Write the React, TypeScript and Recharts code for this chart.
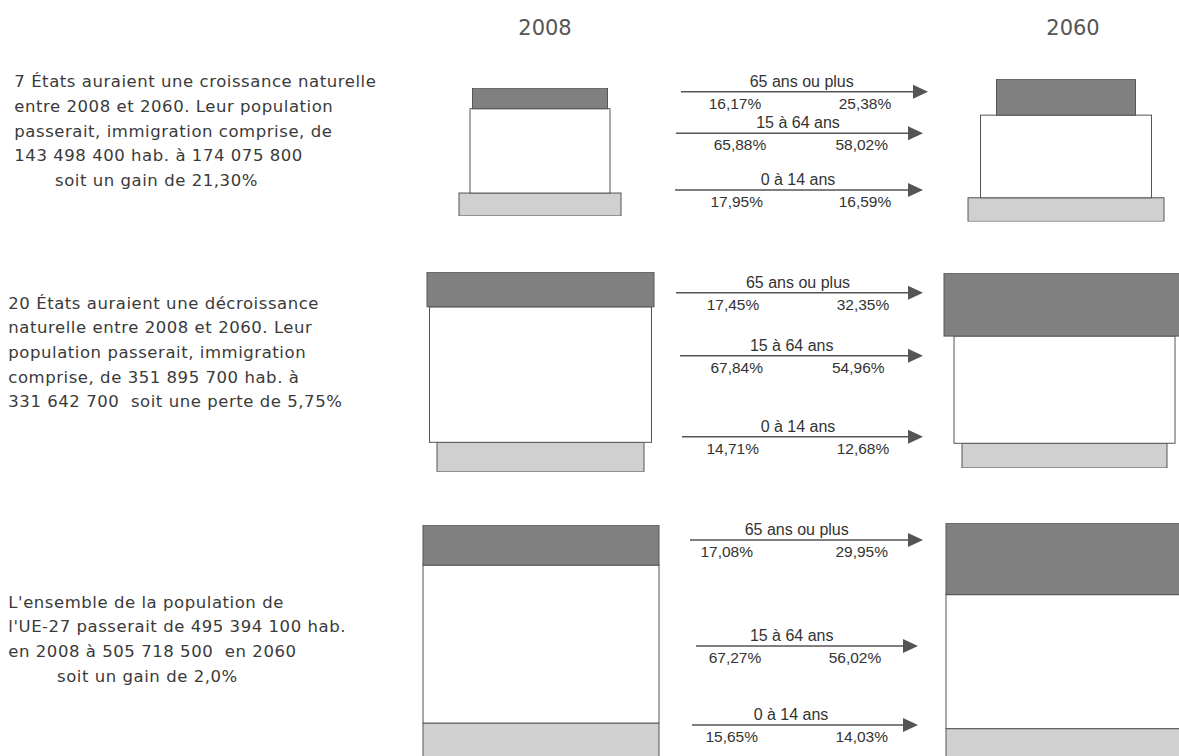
import React from "react";
import { BarChart, Bar, XAxis, YAxis } from "recharts";

// age groups, bottom to top of each stack
const AGE_GROUPS = ["0 à 14 ans", "15 à 64 ans", "65 ans ou plus"];
const YEARS = ["2008", "2060"];

// population totals per row (7 États, 20 États, UE-27)
const POP_2008 = [143498400, 351895700, 495394100];
const POP_2060 = [174075800, 331642700, 505718500];

// shares in % : [0-14, 15-64, 65+]
const SHARE_2008 = [
  [17.95, 65.88, 16.17],
  [14.71, 67.84, 17.45],
  [15.65, 67.27, 17.08],
];
const SHARE_2060 = [
  [16.59, 58.02, 25.38],
  [12.68, 54.96, 32.35],
  [14.03, 56.02, 29.95],
];

const ROW_TEXTS = [
  [
    "7 États auraient une croissance naturelle",
    "entre 2008 et 2060. Leur population",
    "passerait, immigration comprise, de",
    "143 498 400 hab. à 174 075 800",
    "soit un gain de 21,30%",
  ],
  [
    "20 États auraient une décroissance",
    "naturelle entre 2008 et 2060. Leur",
    "population passerait, immigration",
    "comprise, de 351 895 700 hab. à",
    "331 642 700  soit une perte de 5,75%",
  ],
  [
    "L'ensemble de la population de",
    "l'UE-27 passerait de 495 394 100 hab.",
    "en 2008 à 505 718 500  en 2060",
    "soit un gain de 2,0%",
  ],
];

// ---- layout / style (not data) ----
const KEYS = ["g0", "g1", "g2"];
const FILLS = ["#d0d0d0", "#ffffff", "#808080"];
const STROKE = "#555";

const BLOCKS = [
  [
    { top: 87.7, h: 128, cx: 539.5, w: [162, 140, 135] },
    { top: 79.3, h: 142.4, cx: 1065.5, w: [196, 171, 139] },
  ],
  [
    { top: 272, h: 199.7, cx: 540.5, w: [207, 222, 227] },
    { top: 273.3, h: 195, cx: 1064.5, w: [205, 221, 241] },
  ],
  [
    { top: 524.7, h: 234.8, cx: 540.5, w: [236, 236, 236] },
    { top: 522.7, h: 239.2, cx: 1064.5, w: [237, 237, 237] },
  ],
];

// arrows: [x start, x tip, y] per row, per age group
const ARROWS = [
  [[675, 923, 190], [676, 923, 133.3], [681, 928, 91.7]],
  [[682, 923, 436.7], [680, 923, 355.7], [676, 923, 292.7]],
  [[692, 918, 725], [696, 918, 646], [690, 923, 540]],
];
const LABEL_X = [[798, 798, 801.7], [798, 791.7, 798], [791, 791.7, 796.7]];
const LEFT_PCT_X = [[736.7, 740, 735], [732.7, 736.7, 733], [731.7, 735, 726.7]];
const RIGHT_PCT_X = [[865, 861.7, 865], [863, 858.3, 863], [861.7, 855, 861.7]];

const TEXT_TOP = [81.7, 303, 602];
const TEXT_X = [14.3, 8.3, 8.3];
const TEXT_INDENT: Record<string, number> = { "0-4": 55, "2-3": 57 };
const TITLE_X = [545, 1073];

const fmtPct = (v: number) => v.toFixed(2).replace(".", ",") + "%";

function Block({ shares, pop, layout }: { shares: number[]; pop: number; layout: any }) {
  const values = shares.map((s) => (pop * s) / 100 / 1e6);
  const total = values.reduce((a, b) => a + b, 0);
  const data = [{ name: "stack", g0: values[0], g1: values[1], g2: values[2] }];
  const maxW = Math.max(...layout.w) + 4;
  return (
    <div style={{ position: "absolute", left: layout.cx - maxW / 2, top: layout.top - 1 }}>
      <BarChart
        width={maxW}
        height={layout.h + 2}
        data={data}
        margin={{ top: 1, right: 0, bottom: 1, left: 0 }}
        barCategoryGap={0}
      >
        <XAxis dataKey="name" hide />
        <YAxis type="number" domain={[0, total]} allowDataOverflow hide />
        {KEYS.map((k, i) => (
          <Bar
            key={k}
            dataKey={k}
            name={AGE_GROUPS[i]}
            stackId="s"
            fill={FILLS[i]}
            isAnimationActive={false}
            shape={(p: any) => (
              <rect
                x={p.x + p.width / 2 - layout.w[i] / 2}
                y={p.y}
                width={layout.w[i]}
                height={p.height}
                fill={FILLS[i]}
                stroke={STROKE}
                strokeWidth={1}
              />
            )}
          />
        ))}
      </BarChart>
    </div>
  );
}

export default function App() {
  return (
    <div
      style={{
        position: "absolute",
        left: 0,
        top: 0,
        width: 1179,
        height: 756,
        overflow: "hidden",
        background: "#fff",
      }}
    >
      <svg width={1179} height={756} style={{ position: "absolute", left: 0, top: 0 }}>
        {YEARS.map((y, i) => (
          <text
            key={y}
            x={TITLE_X[i]}
            y={35}
            textAnchor="middle"
            fontFamily="DejaVu Sans"
            fontSize={21}
            fill="#555"
          >
            {y}
          </text>
        ))}
        {ROW_TEXTS.map((lines, r) =>
          lines.map((line, j) => (
            <text
              key={`${r}-${j}`}
              x={TEXT_INDENT[`${r}-${j}`] ?? TEXT_X[r]}
              y={TEXT_TOP[r] + j * 24.7 + 5.5}
              fontFamily="DejaVu Sans"
              fontSize={16.5}
              letterSpacing={0.55}
              fill="#3a3a3a"
              style={{ whiteSpace: "pre" }}
            >
              {line}
            </text>
          ))
        )}
        {ARROWS.map((row, r) =>
          row.map(([x1, x2, y], g) => (
            <g key={`a-${r}-${g}`} fontFamily="Liberation Sans, Arial" fill="#333">
              <line x1={x1} y1={y} x2={x2 - 14} y2={y} stroke="#555" strokeWidth={1.4} />
              <polygon points={`${x2},${y} ${x2 - 15},${y - 7} ${x2 - 15},${y + 7}`} fill="#555" />
              <text x={LABEL_X[r][g]} y={y - 5} textAnchor="middle" fontSize={16}>
                {AGE_GROUPS[g]}
              </text>
              <text x={LEFT_PCT_X[r][g]} y={y + 17} textAnchor="middle" fontSize={15.5}>
                {fmtPct(SHARE_2008[r][g])}
              </text>
              <text x={RIGHT_PCT_X[r][g]} y={y + 17} textAnchor="middle" fontSize={15.5}>
                {fmtPct(SHARE_2060[r][g])}
              </text>
            </g>
          ))
        )}
      </svg>
      {BLOCKS.map((pair, r) => (
        <React.Fragment key={r}>
          <Block shares={SHARE_2008[r]} pop={POP_2008[r]} layout={pair[0]} />
          <Block shares={SHARE_2060[r]} pop={POP_2060[r]} layout={pair[1]} />
        </React.Fragment>
      ))}
    </div>
  );
}
